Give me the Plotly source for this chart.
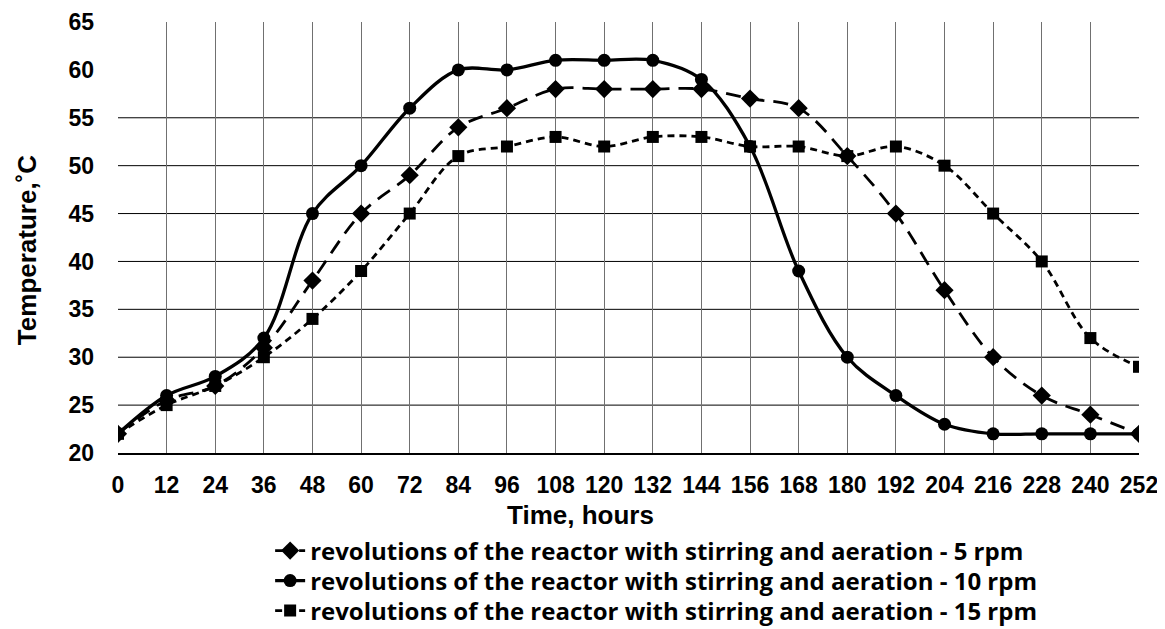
import plotly.graph_objects as go

hours = [0, 12, 24, 36, 48, 60, 72, 84, 96, 108, 120, 132, 144, 156, 168, 180, 192, 204, 216, 228, 240, 252]
rpm5 = [22, 25.5, 27, 31, 38, 45, 49, 54, 56, 58, 58, 58, 58, 57, 56, 51, 45, 37, 30, 26, 24, 22]
rpm10 = [22, 26, 28, 32, 45, 50, 56, 60, 60, 61, 61, 61, 59, 52, 39, 30, 26, 23, 22, 22, 22, 22]
rpm15 = [22, 25, 27, 30, 34, 39, 45, 51, 52, 53, 52, 53, 53, 52, 52, 51, 52, 50, 45, 40, 32, 29]
names = [
    "revolutions of the reactor with stirring and aeration - 5 rpm",
    "revolutions of the reactor with stirring and aeration - 10 rpm",
    "revolutions of the reactor with stirring and aeration - 15 rpm",
]
x_ticks = hours
y_ticks = list(range(20, 66, 5))
y_grid = list(range(25, 56, 5))

fig = go.Figure()
fig.add_trace(go.Scatter(x=hours, y=rpm5, name="<b>" + names[0] + "</b>", mode="lines+markers",
                         legend="legend", showlegend=True,
                         line=dict(color="black", width=2.8, dash="15px,9px", shape="spline"),
                         marker=dict(symbol="diamond", size=14, color="black")))
fig.add_trace(go.Scatter(x=hours, y=rpm10, name="<b>" + names[1] + "</b>", mode="lines+markers",
                         legend="legend2", showlegend=True,
                         line=dict(color="black", width=3.3, shape="spline"),
                         marker=dict(symbol="circle", size=13, color="black")))
fig.add_trace(go.Scatter(x=hours, y=rpm15, name="<b>" + names[2] + "</b>", mode="lines+markers",
                         legend="legend3", showlegend=True,
                         line=dict(color="black", width=2.8, dash="7px,5px", shape="spline"),
                         marker=dict(symbol="square", size=12, color="black")))

# horizontal grid lines (only 25..55 drawn in the original)
for v in y_grid:
    fig.add_shape(type="line", xref="paper", x0=0, x1=1, yref="y", y0=v, y1=v,
                  line=dict(color="black", width=1), layer="below")

tickfont = dict(family="Liberation Sans, Arial", size=23, color="black", weight="bold")
legfont = dict(family="Open Sans", size=24, color="black")


def leg(ypos):
    return dict(x=0.149, y=ypos, xanchor="left", yanchor="middle", font=legfont,
                itemwidth=30, bgcolor="rgba(0,0,0,0)", visible=True)


fig.update_layout(
    width=1157, height=621,
    showlegend=True,
    paper_bgcolor="white", plot_bgcolor="white",
    margin=dict(l=110, r=26, t=14, b=176, autoexpand=False),
    xaxis=dict(range=[0, 252], tickvals=x_ticks, showgrid=True, gridcolor="#707070", gridwidth=1,
               zeroline=False, showline=True, linecolor="black", linewidth=1.5,
               tickfont=tickfont, ticks="", ticklabelstandoff=11),
    yaxis=dict(range=[20, 65], tickvals=y_ticks, showgrid=False, zeroline=False, showline=False,
               tickfont=tickfont, ticks="", ticklabelstandoff=23),
    legend=leg(-0.2274),
    legend2=leg(-0.297),
    legend3=leg(-0.3666),
    font=dict(family="Liberation Sans, Arial", color="black"),
    annotations=[
        dict(text="<b>Time, hours</b>", xref="paper", yref="paper", x=0.4525, y=-0.144,
             xanchor="center", yanchor="middle", showarrow=False,
             font=dict(family="Liberation Sans, Arial", size=26, color="black")),
        dict(text="<b>Temperature,˚C</b>", xref="paper", yref="paper", x=-0.089, y=0.471,
             xanchor="center", yanchor="middle", showarrow=False, textangle=-90,
             font=dict(family="Liberation Sans, Arial", size=26, color="black")),
    ],
)

fig.write_html("out.html")
